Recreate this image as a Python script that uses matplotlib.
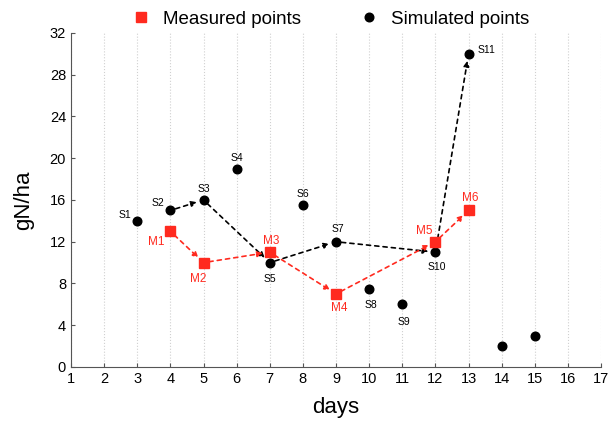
import numpy as np
import matplotlib.pyplot as plt

plt.rcParams['font.family'] = ['Liberation Sans', 'DejaVu Sans']

# simulated points
sim_days = [3, 4, 5, 6, 7, 8, 9, 10, 11, 12, 13, 14, 15]
sim_vals = [14, 15, 16, 19, 10, 15.5, 12, 7.5, 6, 11, 30, 2, 3]
sim_labels = ['S1', 'S2', 'S3', 'S4', 'S5', 'S6', 'S7', 'S8', 'S9', 'S10', 'S11', '', '']

# measured points
meas_days = [4, 5, 7, 9, 12, 13]
meas_vals = [13, 10, 11, 7, 12, 15]
meas_labels = ['M1', 'M2', 'M3', 'M4', 'M5', 'M6']

# arrow paths (indices into the arrays above)
sim_path = [1, 2, 4, 6, 9, 10]
meas_path = [0, 1, 2, 3, 4, 5]

red = '#ff2a1f'

# label offsets in points
sim_off = [(-9, 4), (-9, 5), (0, 8), (0, 8), (0, -12), (0, 8), (1, 9), (1, -12), (1, -13), (1, -11), (13, 3), (0, 0), (0, 0)]
meas_off = [(-10, -8), (-4, -12), (1, 8), (2, -10), (-8, 8), (1, 9)]

fig = plt.figure(figsize=(6.14, 4.23), dpi=100)
ax = fig.add_axes([0.1156, 0.1324, 0.8634, 0.7896])

ax.set_xlim(1, 17)
ax.set_ylim(0, 32)
ax.set_xticks(np.arange(1, 18))
ax.set_yticks(np.arange(0, 33, 4))
ax.xaxis.grid(True, linestyle=':', color='#d0d0d0', lw=0.8)
ax.set_axisbelow(True)
for s in ['top', 'right']:
    ax.spines[s].set_visible(False)
for s in ['left', 'bottom']:
    ax.spines[s].set_color('#555555')
ax.tick_params(direction='in', length=3, labelsize=10.5, color='#555555')

# arrows
for path, xs, ys, col in [(sim_path, sim_days, sim_vals, 'black'), (meas_path, meas_days, meas_vals, red)]:
    for a, b in zip(path[:-1], path[1:]):
        ax.annotate('', xy=(xs[b], ys[b]), xytext=(xs[a], ys[a]),
                    arrowprops=dict(arrowstyle='-|>', color=col, lw=1.2, ls=(0, (2.5, 2.5)),
                                    mutation_scale=8, shrinkA=4, shrinkB=5))

ax.plot(sim_days, sim_vals, 'o', color='black', ms=6.2, ls='none', label='Simulated points', zorder=3)
ax.plot(meas_days, meas_vals, 's', color=red, ms=7, ls='none', label='Measured points', zorder=3)

for x, y, t, o in zip(sim_days, sim_vals, sim_labels, sim_off):
    if t:
        ax.annotate(t, (x, y), xytext=o, textcoords='offset points', ha='center', va='center',
                    fontsize=7.5, color='black')
for x, y, t, o in zip(meas_days, meas_vals, meas_labels, meas_off):
    ax.annotate(t, (x, y), xytext=o, textcoords='offset points', ha='center', va='center',
                fontsize=8.5, color=red)

ax.set_xlabel('days', fontsize=16, labelpad=8)
ax.set_ylabel('gN/ha', fontsize=16, labelpad=11)

h, l = ax.get_legend_handles_labels()
fig.legend(h[::-1], l[::-1], loc='center', bbox_to_anchor=(0.537, 1 - 19 / 423), ncol=2, frameon=False,
           fontsize=13.5, columnspacing=3, handletextpad=0.6, handlelength=1.2, borderpad=0)

fig.savefig('out.png', dpi=100)
